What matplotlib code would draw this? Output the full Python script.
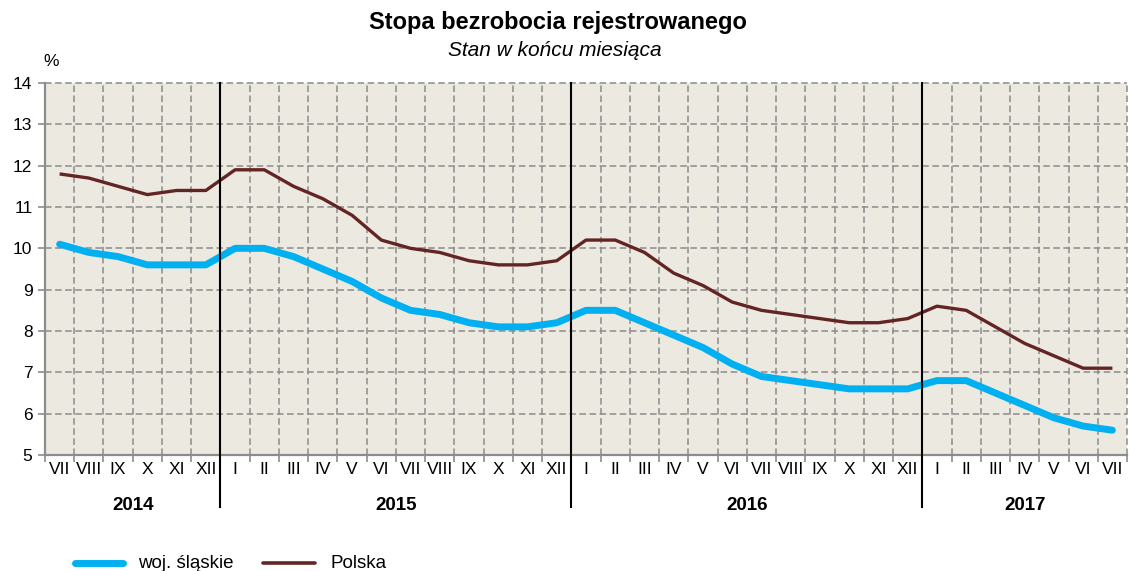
import matplotlib
matplotlib.use("Agg")
import matplotlib.pyplot as plt
import numpy as np
from matplotlib.lines import Line2D

plt.rcParams['font.family'] = ['Liberation Sans', 'DejaVu Sans']

months = ["VII", "VIII", "IX", "X", "XI", "XII",
          "I", "II", "III", "IV", "V", "VI", "VII", "VIII", "IX", "X", "XI", "XII",
          "I", "II", "III", "IV", "V", "VI", "VII", "VIII", "IX", "X", "XI", "XII",
          "I", "II", "III", "IV", "V", "VI", "VII"]
years = ["2014", "2015", "2016", "2017"]
year_counts = [6, 12, 12, 7]

slaskie = [10.1, 9.9, 9.8, 9.6, 9.6, 9.6,
           10.0, 10.0, 9.8, 9.5, 9.2, 8.8, 8.5, 8.4, 8.2, 8.1, 8.1, 8.2,
           8.5, 8.5, 8.2, 7.9, 7.6, 7.2, 6.9, 6.8, 6.7, 6.6, 6.6, 6.6,
           6.8, 6.8, 6.5, 6.2, 5.9, 5.7, 5.6]
polska = [11.8, 11.7, 11.5, 11.3, 11.4, 11.4,
          11.9, 11.9, 11.5, 11.2, 10.8, 10.2, 10.0, 9.9, 9.7, 9.6, 9.6, 9.7,
          10.2, 10.2, 9.9, 9.4, 9.1, 8.7, 8.5, 8.4, 8.3, 8.2, 8.2, 8.3,
          8.6, 8.5, 8.1, 7.7, 7.4, 7.1, 7.1]

BLUE = "#00B0F0"
BROWN = "#632523"
GRID = "#8C8C8C"
DASH = (0, (4.3, 2.3))

W, H = 1129, 571
fig = plt.figure(figsize=(W / 100, H / 100), dpi=100)
L, R, T, B = 45, 1127, 83, 455
ax = fig.add_axes([L / W, 1 - B / H, (R - L) / W, (B - T) / H])
ax.set_facecolor("#ECE9E1")

x = np.arange(len(months))
ax.plot(x, slaskie, color=BLUE, lw=5, solid_capstyle="round", solid_joinstyle="round", zorder=4)
ax.plot(x, polska, color=BROWN, lw=2.4, solid_capstyle="butt", zorder=4)

ax.set_xlim(-0.5, len(months) - 0.5)
ax.set_ylim(5, 14)
ax.set_yticks(np.arange(5, 15, 1))
ax.tick_params(axis="y", labelsize=12.5, length=5, width=1.2, color=GRID, pad=4)

ax.set_xticks(x)
ax.set_xticklabels(months, fontsize=12.5)
ax.tick_params(axis="x", which="major", length=0, pad=5)
ax.set_xticks(np.arange(-0.5, len(months), 1), minor=True)
ax.tick_params(axis="x", which="minor", length=5, width=1.2, color=GRID)

for yv in range(6, 15):
    ax.axhline(yv, color=GRID, lw=1.1, ls=DASH, zorder=1, clip_on=False)
for xv in np.arange(0.5, len(months) + 0.5, 1):
    ax.axvline(xv, color=GRID, lw=1.1, ls=DASH, zorder=1, clip_on=False)

for s in ["top", "right"]:
    ax.spines[s].set_visible(False)
for s in ["left", "bottom"]:
    ax.spines[s].set_color(GRID)
    ax.spines[s].set_linewidth(1.6)

# year separators and labels
start = -0.5
ybot = -(507 - B) / (B - T)
for i, (yr, n) in enumerate(zip(years, year_counts)):
    end = start + n
    ax.text((start + end) / 2, -(505 - B) / (B - T), yr, transform=ax.get_xaxis_transform(),
            ha="center", va="center", fontsize=13.5, fontweight="bold")
    if i < len(years) - 1:
        ax.plot([end, end], [ybot, 1], transform=ax.get_xaxis_transform(),
                color="black", lw=1.5, clip_on=False, zorder=5)
    start = end

fig.text(558 / W, 1 - 22 / H, "Stopa bezrobocia rejestrowanego", ha="center", va="center",
         fontsize=17, fontweight="bold")
fig.text(555 / W, 1 - 51 / H, "Stan w końcu miesiąca", ha="center", va="center",
         fontsize=15, style="italic")
fig.text(51 / W, 1 - 62 / H, "%", ha="center", va="center", fontsize=12.5)

# legend
ly = 1 - 563 / H
fig.add_artist(Line2D([75 / W, 123 / W], [ly, ly], color=BLUE, lw=5,
                      solid_capstyle="round", transform=fig.transFigure))
fig.text(138 / W, ly, "woj. śląskie", ha="left", va="center", fontsize=13.5)
fig.add_artist(Line2D([263 / W, 315 / W], [ly, ly], color=BROWN, lw=2.6,
                      solid_capstyle="round", transform=fig.transFigure))
fig.text(331 / W, ly, "Polska", ha="left", va="center", fontsize=13.5)

fig.savefig("out.png", dpi=100)
